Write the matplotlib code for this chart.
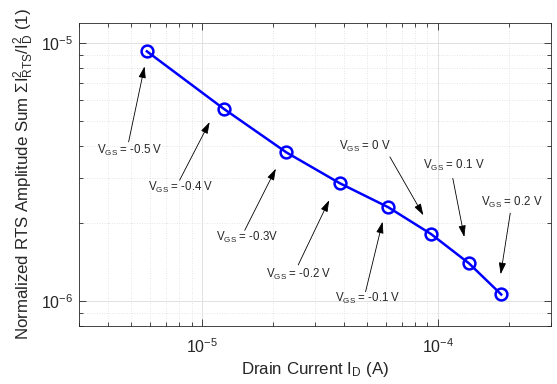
import matplotlib
matplotlib.use("Agg")
import matplotlib.pyplot as plt
from matplotlib.ticker import LogLocator, NullFormatter

plt.rcParams['font.family'] = ['Liberation Sans', 'DejaVu Sans']
plt.rcParams['mathtext.default'] = 'regular'

# data
drain_current = [5.82e-6, 1.23e-5, 2.27e-5, 3.83e-5, 6.14e-5, 9.31e-5, 1.35e-4, 1.85e-4]
rts_sum = [9.29e-6, 5.57e-6, 3.77e-6, 2.86e-6, 2.31e-6, 1.82e-6, 1.40e-6, 1.06e-6]
vgs_labels = ['$V_{GS}$ = -0.5 V', '$V_{GS}$ = -0.4 V', '$V_{GS}$ = -0.3V', '$V_{GS}$ = -0.2 V',
              '$V_{GS}$ = -0.1 V', '$V_{GS}$ = 0 V', '$V_{GS}$ = 0.1 V', '$V_{GS}$ = 0.2 V']
# annotation geometry (data coords)
arrow_tip_x = [5.69e-6, 1.074e-5, 2.05e-5, 3.45e-5, 5.81e-5, 8.65e-5, 1.29e-4, 1.84e-4]
arrow_tip_y = [8.12e-6, 4.94e-6, 3.26e-6, 2.46e-6, 2.03e-6, 2.15e-6, 1.77e-6, 1.27e-6]
arrow_tail_x = [4.87e-6, 8.01e-6, 1.513e-5, 2.55e-5, 4.92e-5, 6.24e-5, 1.153e-4, 2.02e-4]
arrow_tail_y = [4.14e-6, 2.94e-6, 1.88e-6, 1.38e-6, 1.086e-6, 3.62e-6, 2.99e-6, 2.19e-6]
label_x = [4.91e-6, 8.13e-6, 1.545e-5, 2.56e-5, 5.05e-5, 4.89e-5, 1.167e-4, 2.05e-4]
label_y = [3.72e-6, 2.67e-6, 1.71e-6, 1.23e-6, 9.89e-7, 3.84e-6, 3.24e-6, 2.34e-6]

fig = plt.figure(figsize=(5.57, 3.84), dpi=100)
ax = fig.add_axes([0.1418, 0.151, 0.847, 0.790])
ax.set_xscale('log')
ax.set_yscale('log')
ax.set_xlim(3e-6, 3e-4)
ax.set_ylim(8e-7, 1.2e-5)

ax.plot(drain_current, rts_sum, color=(0, 0, 1), lw=1.8, marker='o', ms=8.5,
        mfc='none', mec=(0, 0, 1), mew=1.8, zorder=3)

for i in range(len(vgs_labels)):
    ax.annotate('', xy=(arrow_tip_x[i], arrow_tip_y[i]),
                xytext=(arrow_tail_x[i], arrow_tail_y[i]),
                arrowprops=dict(arrowstyle='-|>,head_length=0.7,head_width=0.22',
                                color='black', lw=0.6, shrinkA=0, shrinkB=0))
    ax.text(label_x[i], label_y[i], vgs_labels[i], ha='center', va='baseline',
            fontsize=8.3, color='#262626')

ax.xaxis.set_major_locator(LogLocator(base=10, numticks=10))
ax.xaxis.set_minor_locator(LogLocator(base=10, subs=range(2, 10), numticks=20))
ax.yaxis.set_major_locator(LogLocator(base=10, numticks=10))
ax.yaxis.set_minor_locator(LogLocator(base=10, subs=range(2, 10), numticks=20))
ax.xaxis.set_minor_formatter(NullFormatter())
ax.yaxis.set_minor_formatter(NullFormatter())

ax.grid(True, which='major', color='#dcdcdc', lw=0.6, ls='-')
ax.grid(True, which='minor', color='#dcdcdc', lw=0.6, ls=(0, (1, 2)))
ax.set_axisbelow(True)

ax.tick_params(which='both', direction='in', top=True, right=True, colors='#262626',
               labelsize=11.5)
ax.tick_params(axis='x', which='major', pad=8)
ax.tick_params(axis='y', which='major', pad=4)
ax.tick_params(which='major', length=5, width=0.6)
ax.tick_params(which='minor', length=3, width=0.6)
for s in ax.spines.values():
    s.set_color('#262626')
    s.set_linewidth(0.6)

ax.set_xlabel('Drain Current $I_D$ (A)', fontsize=12.2, color='#262626', labelpad=3)
ax.set_ylabel('Normalized RTS Amplitude Sum $\\Sigma I^2_{RTS}/I^2_D$ (1)', fontsize=12.2,
              color='#262626', labelpad=4)

fig.savefig('out.png', dpi=100)
